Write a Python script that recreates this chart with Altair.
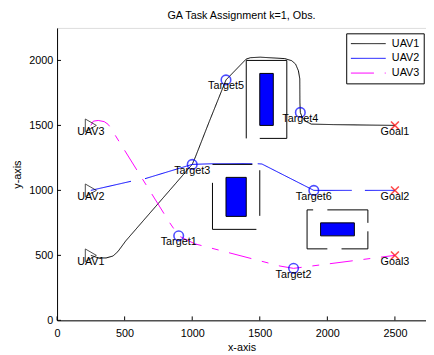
import altair as alt
import pandas as pd

FONT = "Liberation Sans"

# ---------------- data ----------------
uav_names = ["UAV1", "UAV2", "UAV3"]
uav_x = [250, 250, 250]
uav_y = [500, 1000, 1500]

target_names = ["Target1", "Target2", "Target3", "Target4", "Target5", "Target6"]
target_x = [900, 1750, 1000, 1800, 1250, 1900]
target_y = [650, 400, 1200, 1600, 1850, 1000]

goal_names = ["Goal1", "Goal2", "Goal3"]
goal_x = [2500, 2500, 2500]
goal_y = [1500, 1000, 500]

# UAV1 path (black, solid)
uav1_x = [250, 305, 363, 414, 450, 487, 508, 1000, 1024, 1126, 1250, 1399, 1431,
          1503, 1685, 1736, 1765, 1786, 1796, 1797, 1800, 1815, 1845, 1881, 2048, 2500]
uav1_y = [500, 480, 480, 495, 529, 581, 611, 1200, 1258, 1529, 1850, 2010, 2021,
          2025, 2014, 1998, 1972, 1920, 1859, 1679, 1600, 1559, 1529, 1510, 1506, 1500]
uav1_seg = [0] * len(uav1_x)

# UAV2 path (blue, drawn in pieces)
uav2_x = [250, 547, 651, 1000, 1150, 1445, 1485, 1516, 1900, 2181, 2278, 2500]
uav2_y = [1000, 1070, 1090, 1200, 1205, 1205, 1205, 1203, 1000, 1000, 1000, 1000]
uav2_seg = [0, 0, 1, 1, 1, 1, 2, 2, 2, 2, 3, 3]

# UAV3 path (magenta, dash-dot)
uav3_x = [250, 269, 305, 349, 378, 392, 833, 900, 1019, 1649, 1750, 2500]
uav3_y = [1500, 1533, 1538, 1529, 1508, 1488, 752, 650, 589, 418, 400, 500]
uav3_seg = [0] * len(uav3_x)

# obstacles (blue rectangles)
obs_x1 = [1500, 1250, 1950]
obs_x2 = [1600, 1400, 2200]
obs_y1 = [1500, 800, 650]
obs_y2 = [1900, 1100, 750]

# safety boundaries drawn as broken segments
bnd_x1 = [1400, 1400, 1700, 1700, 1150, 1150, 1500, 1475, 1850, 1850, 2000, 2300, 2300, 2300, 2000]
bnd_y1 = [1400, 2000, 2000, 1400, 700, 1200, 1155, 700, 550, 850, 850, 850, 685, 550, 550]
bnd_x2 = [1400, 1700, 1700, 1500, 1150, 1445, 1500, 1150, 1850, 1895, 2300, 2300, 2300, 2105, 1850]
bnd_y2 = [2000, 2000, 1400, 1400, 1058, 1200, 804, 700, 850, 850, 850, 750, 550, 550, 550]

x_ticks = [0, 500, 1000, 1500, 2000, 2500]
y_ticks = [0, 500, 1000, 1500, 2000]

W, H = 376, 298
XDOM = [0, 2730]
YDOM = [0, 2250]

# ---------------- tables ----------------
rows = []
for name, xs_, ys_, segs in [("UAV1", uav1_x, uav1_y, uav1_seg),
                             ("UAV2", uav2_x, uav2_y, uav2_seg),
                             ("UAV3", uav3_x, uav3_y, uav3_seg)]:
    for i, (a, b, s) in enumerate(zip(xs_, ys_, segs)):
        rows.append({"uav": name, "x": a, "y": b, "seg": f"{name}-{s}", "ord": i})
paths = pd.DataFrame(rows)

uavs = pd.DataFrame({"label": uav_names, "x": uav_x, "y": uav_y})
targets = pd.DataFrame({"label": target_names, "x": target_x, "y": target_y})
goals = pd.DataFrame({"label": goal_names, "x": goal_x, "y": goal_y})
obs = pd.DataFrame({"x1": obs_x1, "x2": obs_x2, "y1": obs_y1, "y2": obs_y2})
bnd = pd.DataFrame({"x1": bnd_x1, "x2": bnd_x2, "y1": bnd_y1, "y2": bnd_y2})
xt = pd.DataFrame({"v": x_ticks})
yt = pd.DataFrame({"v": y_ticks})

xs = alt.Scale(domain=XDOM, nice=False, zero=False)
ys = alt.Scale(domain=YDOM, nice=False, zero=False)

xaxis = alt.Axis(values=x_ticks, format="d", title="x-axis", grid=False, ticks=False, tickSize=0,
                 labelFlush=False, labelPadding=7, titlePadding=4, labelFontSize=11,
                 titleFontSize=11, titleFontWeight="normal", labelColor="black",
                 titleColor="black", domainColor="black", labelFont=FONT, titleFont=FONT)
yaxis = alt.Axis(values=y_ticks, format="d", title="y-axis", grid=False, ticks=False, tickSize=0,
                 labelPadding=4.5, titlePadding=6, labelFontSize=11,
                 titleFontSize=11, titleFontWeight="normal", labelColor="black",
                 titleColor="black", domainColor="black", labelFont=FONT, titleFont=FONT)

legend = alt.Legend(title=None, orient="none", legendX=294.7, legendY=5.5,
                    symbolType="stroke", symbolSize=1260, symbolStrokeWidth=1,
                    clipHeight=13, rowPadding=2, padding=4, labelOffset=5.5,
                    labelFontSize=11, labelFont=FONT, labelColor="black",
                    strokeColor="black", fillColor="white")

lines = alt.Chart(paths).mark_line(strokeWidth=1).encode(
    x=alt.X("x:Q", scale=xs, axis=xaxis),
    y=alt.Y("y:Q", scale=ys, axis=yaxis),
    color=alt.Color("uav:N", scale=alt.Scale(domain=uav_names,
                    range=["black", "#0000FF", "#FF00FF"]), legend=legend),
    strokeDash=alt.StrokeDash("uav:N", scale=alt.Scale(domain=uav_names,
                    range=[[1, 0], [1, 0], [23.5, 11, 7, 11]]), legend=legend),
    detail="seg:N",
    order="ord:Q",
)

boundaries = alt.Chart(bnd).mark_rule(color="black", strokeWidth=1).encode(
    x=alt.X("x1:Q", scale=xs), y=alt.Y("y1:Q", scale=ys),
    x2="x2:Q", y2="y2:Q")

obstacles = alt.Chart(obs).mark_rect(color="#0000FF", stroke="black", strokeWidth=1).encode(
    x=alt.X("x1:Q", scale=xs), x2="x2:Q",
    y=alt.Y("y1:Q", scale=ys), y2="y2:Q")

uav_pts = alt.Chart(uavs).mark_point(shape="triangle-right", size=170, filled=False,
                                     color="black", strokeWidth=1).encode(
    x=alt.X("x:Q", scale=xs), y=alt.Y("y:Q", scale=ys))
tgt_pts = alt.Chart(targets).mark_point(shape="circle", size=95, filled=False,
                                        color="#0000FF", strokeWidth=1.6).encode(
    x=alt.X("x:Q", scale=xs), y=alt.Y("y:Q", scale=ys))
goal_pts = alt.Chart(goals).mark_point(shape="M-1,-1L1,1M1,-1L-1,1", size=64, filled=False,
                                       color="#FF0000", strokeWidth=1.6).encode(
    x=alt.X("x:Q", scale=xs), y=alt.Y("y:Q", scale=ys))

labels_df = pd.concat([uavs, targets, goals], ignore_index=True)
labels = alt.Chart(labels_df).mark_text(font=FONT, fontSize=11, color="black",
                                        align="center", baseline="middle", dy=6.5).encode(
    x=alt.X("x:Q", scale=xs), y=alt.Y("y:Q", scale=ys), text="label:N")

xticks = alt.Chart(xt).mark_rule(color="black", strokeWidth=1).encode(
    x=alt.X("v:Q", scale=xs), y=alt.value(H), y2=alt.value(H - 4))
yticks = alt.Chart(yt).mark_rule(color="black", strokeWidth=1).encode(
    y=alt.Y("v:Q", scale=ys), x=alt.value(0), x2=alt.value(4))

chart = alt.layer(lines, boundaries, obstacles, uav_pts, tgt_pts, goal_pts, labels,
                  xticks, yticks).properties(
    width=W, height=H,
    title=alt.TitleParams("GA Task Assignment k=1, Obs.", fontSize=11, fontWeight="normal",
                          font=FONT, color="black", anchor="middle", frame="group", offset=7),
    padding={"left": 50, "top": 17, "right": 0, "bottom": 32},
    autosize=alt.AutoSizeParams(type="none"),
).configure_view(stroke=None).configure(background="white")

chart.save("out.html", embed_options={"renderer": "svg", "actions": False})
